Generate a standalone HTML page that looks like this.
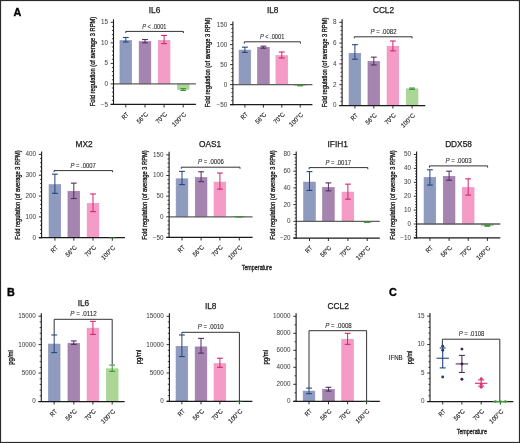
<!DOCTYPE html>
<html><head><meta charset="utf-8"><style>
html,body{margin:0;padding:0;background:#fff;}
body{width:520px;height:443px;overflow:hidden;}
svg{display:block;will-change:transform;filter:blur(0.3px);font-family:"Liberation Sans",sans-serif;}
</style></head><body>
<svg width="520" height="443" viewBox="0 0 520 443">
<rect x="0" y="0" width="520" height="443" fill="#fff"/>
<rect x="119.95" y="40.37" width="11.70" height="43.53" fill="#8f9abf" stroke="#8692ba" stroke-width="0.6"/>
<rect x="139.15" y="41.60" width="11.70" height="42.30" fill="#a584b0" stroke="#9b79a7" stroke-width="0.6"/>
<rect x="158.25" y="40.37" width="11.70" height="43.53" fill="#f59cc6" stroke="#ef90bf" stroke-width="0.6"/>
<rect x="177.35" y="83.90" width="11.70" height="5.54" fill="#acd696" stroke="#9fcf8a" stroke-width="0.6"/>
<line x1="113.50" y1="83.90" x2="195.90" y2="83.90" stroke="#5e5e5e" stroke-width="1.3"/>
<line x1="125.80" y1="37.49" x2="125.80" y2="42.01" stroke="#22467e" stroke-width="1.0"/>
<line x1="122.90" y1="37.49" x2="128.70" y2="37.49" stroke="#22467e" stroke-width="1.1"/>
<line x1="122.90" y1="42.01" x2="128.70" y2="42.01" stroke="#22467e" stroke-width="1.1"/>
<line x1="145.00" y1="39.55" x2="145.00" y2="42.83" stroke="#4f2f63" stroke-width="1.0"/>
<line x1="142.10" y1="39.55" x2="147.90" y2="39.55" stroke="#4f2f63" stroke-width="1.1"/>
<line x1="142.10" y1="42.83" x2="147.90" y2="42.83" stroke="#4f2f63" stroke-width="1.1"/>
<line x1="164.10" y1="35.44" x2="164.10" y2="43.65" stroke="#d4266c" stroke-width="1.0"/>
<line x1="161.20" y1="35.44" x2="167.00" y2="35.44" stroke="#d4266c" stroke-width="1.1"/>
<line x1="161.20" y1="43.65" x2="167.00" y2="43.65" stroke="#d4266c" stroke-width="1.1"/>
<line x1="183.20" y1="88.62" x2="183.20" y2="90.47" stroke="#379437" stroke-width="1.0"/>
<line x1="180.30" y1="88.62" x2="186.10" y2="88.62" stroke="#379437" stroke-width="1.1"/>
<line x1="180.30" y1="90.47" x2="186.10" y2="90.47" stroke="#379437" stroke-width="1.1"/>
<line x1="113.50" y1="19.30" x2="113.50" y2="105.03" stroke="#1a1a1a" stroke-width="1.1"/>
<line x1="110.70" y1="104.43" x2="195.90" y2="104.43" stroke="#1a1a1a" stroke-width="1.25"/>
<line x1="110.70" y1="22.30" x2="113.50" y2="22.30" stroke="#1a1a1a" stroke-width="0.9"/>
<text x="107.90" y="24.20" font-size="6.3" text-anchor="end" fill="#4a4a4a" stroke="#4a4a4a" stroke-width="0.05">15</text>
<line x1="110.70" y1="42.83" x2="113.50" y2="42.83" stroke="#1a1a1a" stroke-width="0.9"/>
<text x="107.90" y="44.73" font-size="6.3" text-anchor="end" fill="#4a4a4a" stroke="#4a4a4a" stroke-width="0.05">10</text>
<line x1="110.70" y1="63.37" x2="113.50" y2="63.37" stroke="#1a1a1a" stroke-width="0.9"/>
<text x="107.90" y="65.27" font-size="6.3" text-anchor="end" fill="#4a4a4a" stroke="#4a4a4a" stroke-width="0.05">5</text>
<line x1="110.70" y1="83.90" x2="113.50" y2="83.90" stroke="#1a1a1a" stroke-width="0.9"/>
<text x="107.90" y="85.80" font-size="6.3" text-anchor="end" fill="#4a4a4a" stroke="#4a4a4a" stroke-width="0.05">0</text>
<line x1="110.70" y1="104.43" x2="113.50" y2="104.43" stroke="#1a1a1a" stroke-width="0.9"/>
<text x="107.90" y="106.83" font-size="6.3" text-anchor="end" fill="#4a4a4a" stroke="#4a4a4a" stroke-width="0.05">−5</text>
<line x1="111.90" y1="100.33" x2="113.50" y2="100.33" stroke="#1a1a1a" stroke-width="0.8"/>
<line x1="111.90" y1="96.22" x2="113.50" y2="96.22" stroke="#1a1a1a" stroke-width="0.8"/>
<line x1="111.90" y1="92.11" x2="113.50" y2="92.11" stroke="#1a1a1a" stroke-width="0.8"/>
<line x1="111.90" y1="88.01" x2="113.50" y2="88.01" stroke="#1a1a1a" stroke-width="0.8"/>
<line x1="111.90" y1="79.79" x2="113.50" y2="79.79" stroke="#1a1a1a" stroke-width="0.8"/>
<line x1="111.90" y1="75.69" x2="113.50" y2="75.69" stroke="#1a1a1a" stroke-width="0.8"/>
<line x1="111.90" y1="71.58" x2="113.50" y2="71.58" stroke="#1a1a1a" stroke-width="0.8"/>
<line x1="111.90" y1="67.47" x2="113.50" y2="67.47" stroke="#1a1a1a" stroke-width="0.8"/>
<line x1="111.90" y1="59.26" x2="113.50" y2="59.26" stroke="#1a1a1a" stroke-width="0.8"/>
<line x1="111.90" y1="55.15" x2="113.50" y2="55.15" stroke="#1a1a1a" stroke-width="0.8"/>
<line x1="111.90" y1="51.05" x2="113.50" y2="51.05" stroke="#1a1a1a" stroke-width="0.8"/>
<line x1="111.90" y1="46.94" x2="113.50" y2="46.94" stroke="#1a1a1a" stroke-width="0.8"/>
<line x1="111.90" y1="38.73" x2="113.50" y2="38.73" stroke="#1a1a1a" stroke-width="0.8"/>
<line x1="111.90" y1="34.62" x2="113.50" y2="34.62" stroke="#1a1a1a" stroke-width="0.8"/>
<line x1="111.90" y1="30.51" x2="113.50" y2="30.51" stroke="#1a1a1a" stroke-width="0.8"/>
<line x1="111.90" y1="26.41" x2="113.50" y2="26.41" stroke="#1a1a1a" stroke-width="0.8"/>
<line x1="125.80" y1="104.43" x2="125.80" y2="107.43" stroke="#1a1a1a" stroke-width="0.9"/>
<line x1="145.00" y1="104.43" x2="145.00" y2="107.43" stroke="#1a1a1a" stroke-width="0.9"/>
<line x1="164.10" y1="104.43" x2="164.10" y2="107.43" stroke="#1a1a1a" stroke-width="0.9"/>
<line x1="183.20" y1="104.43" x2="183.20" y2="107.43" stroke="#1a1a1a" stroke-width="0.9"/>
<text x="129.20" y="114.83" font-size="6.3" text-anchor="end" fill="#222" stroke="#222" stroke-width="0.15" textLength="7.14" lengthAdjust="spacingAndGlyphs" transform="rotate(-45 129.20 114.83)">RT</text>
<text x="148.40" y="114.83" font-size="6.3" text-anchor="end" fill="#222" stroke="#222" stroke-width="0.15" textLength="12.95" lengthAdjust="spacingAndGlyphs" transform="rotate(-45 148.40 114.83)">56°C</text>
<text x="167.50" y="114.83" font-size="6.3" text-anchor="end" fill="#222" stroke="#222" stroke-width="0.15" textLength="12.95" lengthAdjust="spacingAndGlyphs" transform="rotate(-45 167.50 114.83)">70°C</text>
<text x="186.60" y="114.83" font-size="6.3" text-anchor="end" fill="#222" stroke="#222" stroke-width="0.15" textLength="17.05" lengthAdjust="spacingAndGlyphs" transform="rotate(-45 186.60 114.83)">100°C</text>
<text x="154.50" y="13.20" font-size="8.3" text-anchor="middle" fill="#1a1a1a" stroke="#1a1a1a" stroke-width="0.25">IL6</text>
<text x="95.10" y="61.50" font-size="7.2" text-anchor="middle" fill="#111" stroke="#111" stroke-width="0.3" textLength="89.5" lengthAdjust="spacingAndGlyphs" transform="rotate(-90 95.10 61.50)">Fold regulation (of average 3 RPM)</text>
<path d="M125.80 33.00 L125.80 31.40 L183.40 31.40 L183.40 33.00" fill="none" stroke="#333" stroke-width="1"/>
<text x="154.30" y="28.50" font-size="6.6" text-anchor="middle" fill="#2a2a2a" stroke="#2a2a2a" stroke-width="0.1" textLength="24.2" lengthAdjust="spacingAndGlyphs"><tspan font-style="italic">P</tspan> < .0001</text>
<rect x="239.05" y="50.08" width="11.70" height="34.52" fill="#8f9abf" stroke="#8692ba" stroke-width="0.6"/>
<rect x="257.55" y="47.28" width="11.70" height="37.32" fill="#a584b0" stroke="#9b79a7" stroke-width="0.6"/>
<rect x="275.95" y="55.60" width="11.70" height="29.00" fill="#f59cc6" stroke="#ef90bf" stroke-width="0.6"/>
<rect x="294.35" y="84.60" width="11.70" height="0.80" fill="#acd696" stroke="#9fcf8a" stroke-width="0.6"/>
<line x1="232.90" y1="84.60" x2="312.40" y2="84.60" stroke="#5e5e5e" stroke-width="1.3"/>
<line x1="244.90" y1="47.20" x2="244.90" y2="52.40" stroke="#22467e" stroke-width="1.0"/>
<line x1="242.00" y1="47.20" x2="247.80" y2="47.20" stroke="#22467e" stroke-width="1.1"/>
<line x1="242.00" y1="52.40" x2="247.80" y2="52.40" stroke="#22467e" stroke-width="1.1"/>
<line x1="263.40" y1="46.20" x2="263.40" y2="48.20" stroke="#4f2f63" stroke-width="1.0"/>
<line x1="260.50" y1="46.20" x2="266.30" y2="46.20" stroke="#4f2f63" stroke-width="1.1"/>
<line x1="260.50" y1="48.20" x2="266.30" y2="48.20" stroke="#4f2f63" stroke-width="1.1"/>
<line x1="281.80" y1="52.00" x2="281.80" y2="58.00" stroke="#d4266c" stroke-width="1.0"/>
<line x1="278.90" y1="52.00" x2="284.70" y2="52.00" stroke="#d4266c" stroke-width="1.1"/>
<line x1="278.90" y1="58.00" x2="284.70" y2="58.00" stroke="#d4266c" stroke-width="1.1"/>
<line x1="300.20" y1="85.00" x2="300.20" y2="85.80" stroke="#379437" stroke-width="1.0"/>
<line x1="297.30" y1="85.00" x2="303.10" y2="85.00" stroke="#379437" stroke-width="1.1"/>
<line x1="297.30" y1="85.80" x2="303.10" y2="85.80" stroke="#379437" stroke-width="1.1"/>
<line x1="232.90" y1="21.60" x2="232.90" y2="105.20" stroke="#1a1a1a" stroke-width="1.1"/>
<line x1="230.10" y1="104.60" x2="312.40" y2="104.60" stroke="#1a1a1a" stroke-width="1.25"/>
<line x1="230.10" y1="24.60" x2="232.90" y2="24.60" stroke="#1a1a1a" stroke-width="0.9"/>
<text x="227.30" y="26.50" font-size="6.3" text-anchor="end" fill="#4a4a4a" stroke="#4a4a4a" stroke-width="0.05">150</text>
<line x1="230.10" y1="44.60" x2="232.90" y2="44.60" stroke="#1a1a1a" stroke-width="0.9"/>
<text x="227.30" y="46.50" font-size="6.3" text-anchor="end" fill="#4a4a4a" stroke="#4a4a4a" stroke-width="0.05">100</text>
<line x1="230.10" y1="64.60" x2="232.90" y2="64.60" stroke="#1a1a1a" stroke-width="0.9"/>
<text x="227.30" y="66.50" font-size="6.3" text-anchor="end" fill="#4a4a4a" stroke="#4a4a4a" stroke-width="0.05">50</text>
<line x1="230.10" y1="84.60" x2="232.90" y2="84.60" stroke="#1a1a1a" stroke-width="0.9"/>
<text x="227.30" y="86.50" font-size="6.3" text-anchor="end" fill="#4a4a4a" stroke="#4a4a4a" stroke-width="0.05">0</text>
<line x1="230.10" y1="104.60" x2="232.90" y2="104.60" stroke="#1a1a1a" stroke-width="0.9"/>
<text x="227.30" y="107.00" font-size="6.3" text-anchor="end" fill="#4a4a4a" stroke="#4a4a4a" stroke-width="0.05">−50</text>
<line x1="231.30" y1="100.60" x2="232.90" y2="100.60" stroke="#1a1a1a" stroke-width="0.8"/>
<line x1="231.30" y1="96.60" x2="232.90" y2="96.60" stroke="#1a1a1a" stroke-width="0.8"/>
<line x1="231.30" y1="92.60" x2="232.90" y2="92.60" stroke="#1a1a1a" stroke-width="0.8"/>
<line x1="231.30" y1="88.60" x2="232.90" y2="88.60" stroke="#1a1a1a" stroke-width="0.8"/>
<line x1="231.30" y1="80.60" x2="232.90" y2="80.60" stroke="#1a1a1a" stroke-width="0.8"/>
<line x1="231.30" y1="76.60" x2="232.90" y2="76.60" stroke="#1a1a1a" stroke-width="0.8"/>
<line x1="231.30" y1="72.60" x2="232.90" y2="72.60" stroke="#1a1a1a" stroke-width="0.8"/>
<line x1="231.30" y1="68.60" x2="232.90" y2="68.60" stroke="#1a1a1a" stroke-width="0.8"/>
<line x1="231.30" y1="60.60" x2="232.90" y2="60.60" stroke="#1a1a1a" stroke-width="0.8"/>
<line x1="231.30" y1="56.60" x2="232.90" y2="56.60" stroke="#1a1a1a" stroke-width="0.8"/>
<line x1="231.30" y1="52.60" x2="232.90" y2="52.60" stroke="#1a1a1a" stroke-width="0.8"/>
<line x1="231.30" y1="48.60" x2="232.90" y2="48.60" stroke="#1a1a1a" stroke-width="0.8"/>
<line x1="231.30" y1="40.60" x2="232.90" y2="40.60" stroke="#1a1a1a" stroke-width="0.8"/>
<line x1="231.30" y1="36.60" x2="232.90" y2="36.60" stroke="#1a1a1a" stroke-width="0.8"/>
<line x1="231.30" y1="32.60" x2="232.90" y2="32.60" stroke="#1a1a1a" stroke-width="0.8"/>
<line x1="231.30" y1="28.60" x2="232.90" y2="28.60" stroke="#1a1a1a" stroke-width="0.8"/>
<line x1="244.90" y1="104.60" x2="244.90" y2="107.60" stroke="#1a1a1a" stroke-width="0.9"/>
<line x1="263.40" y1="104.60" x2="263.40" y2="107.60" stroke="#1a1a1a" stroke-width="0.9"/>
<line x1="281.80" y1="104.60" x2="281.80" y2="107.60" stroke="#1a1a1a" stroke-width="0.9"/>
<line x1="300.20" y1="104.60" x2="300.20" y2="107.60" stroke="#1a1a1a" stroke-width="0.9"/>
<text x="248.30" y="115.00" font-size="6.3" text-anchor="end" fill="#222" stroke="#222" stroke-width="0.15" textLength="7.14" lengthAdjust="spacingAndGlyphs" transform="rotate(-45 248.30 115.00)">RT</text>
<text x="266.80" y="115.00" font-size="6.3" text-anchor="end" fill="#222" stroke="#222" stroke-width="0.15" textLength="12.95" lengthAdjust="spacingAndGlyphs" transform="rotate(-45 266.80 115.00)">56°C</text>
<text x="285.20" y="115.00" font-size="6.3" text-anchor="end" fill="#222" stroke="#222" stroke-width="0.15" textLength="12.95" lengthAdjust="spacingAndGlyphs" transform="rotate(-45 285.20 115.00)">70°C</text>
<text x="303.60" y="115.00" font-size="6.3" text-anchor="end" fill="#222" stroke="#222" stroke-width="0.15" textLength="17.05" lengthAdjust="spacingAndGlyphs" transform="rotate(-45 303.60 115.00)">100°C</text>
<text x="272.70" y="13.40" font-size="8.3" text-anchor="middle" fill="#1a1a1a" stroke="#1a1a1a" stroke-width="0.25">IL8</text>
<text x="210.50" y="62.40" font-size="7.2" text-anchor="middle" fill="#111" stroke="#111" stroke-width="0.3" textLength="89.5" lengthAdjust="spacingAndGlyphs" transform="rotate(-90 210.50 62.40)">Fold regulation (of average 3 RPM)</text>
<path d="M244.30 43.60 L244.30 41.80 L300.40 41.80 L300.40 43.60" fill="none" stroke="#333" stroke-width="1"/>
<text x="272.10" y="38.90" font-size="6.6" text-anchor="middle" fill="#2a2a2a" stroke="#2a2a2a" stroke-width="0.1" textLength="24.4" lengthAdjust="spacingAndGlyphs"><tspan font-style="italic">P</tspan> < .0001</text>
<rect x="349.05" y="53.29" width="11.70" height="52.21" fill="#8f9abf" stroke="#8692ba" stroke-width="0.6"/>
<rect x="367.95" y="61.40" width="11.70" height="44.10" fill="#a584b0" stroke="#9b79a7" stroke-width="0.6"/>
<rect x="387.05" y="46.22" width="11.70" height="59.28" fill="#f59cc6" stroke="#ef90bf" stroke-width="0.6"/>
<rect x="406.25" y="88.86" width="11.70" height="16.64" fill="#acd696" stroke="#9fcf8a" stroke-width="0.6"/>
<line x1="354.90" y1="44.66" x2="354.90" y2="59.22" stroke="#22467e" stroke-width="1.0"/>
<line x1="352.00" y1="44.66" x2="357.80" y2="44.66" stroke="#22467e" stroke-width="1.1"/>
<line x1="352.00" y1="59.22" x2="357.80" y2="59.22" stroke="#22467e" stroke-width="1.1"/>
<line x1="373.80" y1="57.14" x2="373.80" y2="64.94" stroke="#4f2f63" stroke-width="1.0"/>
<line x1="370.90" y1="57.14" x2="376.70" y2="57.14" stroke="#4f2f63" stroke-width="1.1"/>
<line x1="370.90" y1="64.94" x2="376.70" y2="64.94" stroke="#4f2f63" stroke-width="1.1"/>
<line x1="392.90" y1="41.02" x2="392.90" y2="50.90" stroke="#d4266c" stroke-width="1.0"/>
<line x1="390.00" y1="41.02" x2="395.80" y2="41.02" stroke="#d4266c" stroke-width="1.1"/>
<line x1="390.00" y1="50.90" x2="395.80" y2="50.90" stroke="#d4266c" stroke-width="1.1"/>
<line x1="412.10" y1="88.03" x2="412.10" y2="89.38" stroke="#379437" stroke-width="1.0"/>
<line x1="409.20" y1="88.03" x2="415.00" y2="88.03" stroke="#379437" stroke-width="1.1"/>
<line x1="409.20" y1="89.38" x2="415.00" y2="89.38" stroke="#379437" stroke-width="1.1"/>
<line x1="342.10" y1="19.30" x2="342.10" y2="106.10" stroke="#1a1a1a" stroke-width="1.1"/>
<line x1="339.30" y1="105.50" x2="425.30" y2="105.50" stroke="#1a1a1a" stroke-width="1.25"/>
<line x1="339.30" y1="22.30" x2="342.10" y2="22.30" stroke="#1a1a1a" stroke-width="0.9"/>
<text x="336.50" y="24.20" font-size="6.3" text-anchor="end" fill="#4a4a4a" stroke="#4a4a4a" stroke-width="0.05">8</text>
<line x1="339.30" y1="43.10" x2="342.10" y2="43.10" stroke="#1a1a1a" stroke-width="0.9"/>
<text x="336.50" y="45.00" font-size="6.3" text-anchor="end" fill="#4a4a4a" stroke="#4a4a4a" stroke-width="0.05">6</text>
<line x1="339.30" y1="63.90" x2="342.10" y2="63.90" stroke="#1a1a1a" stroke-width="0.9"/>
<text x="336.50" y="65.80" font-size="6.3" text-anchor="end" fill="#4a4a4a" stroke="#4a4a4a" stroke-width="0.05">4</text>
<line x1="339.30" y1="84.70" x2="342.10" y2="84.70" stroke="#1a1a1a" stroke-width="0.9"/>
<text x="336.50" y="86.60" font-size="6.3" text-anchor="end" fill="#4a4a4a" stroke="#4a4a4a" stroke-width="0.05">2</text>
<line x1="339.30" y1="105.50" x2="342.10" y2="105.50" stroke="#1a1a1a" stroke-width="0.9"/>
<text x="336.50" y="107.40" font-size="6.3" text-anchor="end" fill="#4a4a4a" stroke="#4a4a4a" stroke-width="0.05">0</text>
<line x1="340.50" y1="101.34" x2="342.10" y2="101.34" stroke="#1a1a1a" stroke-width="0.8"/>
<line x1="340.50" y1="97.18" x2="342.10" y2="97.18" stroke="#1a1a1a" stroke-width="0.8"/>
<line x1="340.50" y1="93.02" x2="342.10" y2="93.02" stroke="#1a1a1a" stroke-width="0.8"/>
<line x1="340.50" y1="88.86" x2="342.10" y2="88.86" stroke="#1a1a1a" stroke-width="0.8"/>
<line x1="340.50" y1="80.54" x2="342.10" y2="80.54" stroke="#1a1a1a" stroke-width="0.8"/>
<line x1="340.50" y1="76.38" x2="342.10" y2="76.38" stroke="#1a1a1a" stroke-width="0.8"/>
<line x1="340.50" y1="72.22" x2="342.10" y2="72.22" stroke="#1a1a1a" stroke-width="0.8"/>
<line x1="340.50" y1="68.06" x2="342.10" y2="68.06" stroke="#1a1a1a" stroke-width="0.8"/>
<line x1="340.50" y1="59.74" x2="342.10" y2="59.74" stroke="#1a1a1a" stroke-width="0.8"/>
<line x1="340.50" y1="55.58" x2="342.10" y2="55.58" stroke="#1a1a1a" stroke-width="0.8"/>
<line x1="340.50" y1="51.42" x2="342.10" y2="51.42" stroke="#1a1a1a" stroke-width="0.8"/>
<line x1="340.50" y1="47.26" x2="342.10" y2="47.26" stroke="#1a1a1a" stroke-width="0.8"/>
<line x1="340.50" y1="38.94" x2="342.10" y2="38.94" stroke="#1a1a1a" stroke-width="0.8"/>
<line x1="340.50" y1="34.78" x2="342.10" y2="34.78" stroke="#1a1a1a" stroke-width="0.8"/>
<line x1="340.50" y1="30.62" x2="342.10" y2="30.62" stroke="#1a1a1a" stroke-width="0.8"/>
<line x1="340.50" y1="26.46" x2="342.10" y2="26.46" stroke="#1a1a1a" stroke-width="0.8"/>
<line x1="354.90" y1="105.50" x2="354.90" y2="108.50" stroke="#1a1a1a" stroke-width="0.9"/>
<line x1="373.80" y1="105.50" x2="373.80" y2="108.50" stroke="#1a1a1a" stroke-width="0.9"/>
<line x1="392.90" y1="105.50" x2="392.90" y2="108.50" stroke="#1a1a1a" stroke-width="0.9"/>
<line x1="412.10" y1="105.50" x2="412.10" y2="108.50" stroke="#1a1a1a" stroke-width="0.9"/>
<text x="358.30" y="115.90" font-size="6.3" text-anchor="end" fill="#222" stroke="#222" stroke-width="0.15" textLength="7.14" lengthAdjust="spacingAndGlyphs" transform="rotate(-45 358.30 115.90)">RT</text>
<text x="377.20" y="115.90" font-size="6.3" text-anchor="end" fill="#222" stroke="#222" stroke-width="0.15" textLength="12.95" lengthAdjust="spacingAndGlyphs" transform="rotate(-45 377.20 115.90)">56°C</text>
<text x="396.30" y="115.90" font-size="6.3" text-anchor="end" fill="#222" stroke="#222" stroke-width="0.15" textLength="12.95" lengthAdjust="spacingAndGlyphs" transform="rotate(-45 396.30 115.90)">70°C</text>
<text x="415.50" y="115.90" font-size="6.3" text-anchor="end" fill="#222" stroke="#222" stroke-width="0.15" textLength="17.05" lengthAdjust="spacingAndGlyphs" transform="rotate(-45 415.50 115.90)">100°C</text>
<text x="383.50" y="13.20" font-size="8.3" text-anchor="middle" fill="#1a1a1a" stroke="#1a1a1a" stroke-width="0.25">CCL2</text>
<text x="327.10" y="62.40" font-size="7.2" text-anchor="middle" fill="#111" stroke="#111" stroke-width="0.3" textLength="89.5" lengthAdjust="spacingAndGlyphs" transform="rotate(-90 327.10 62.40)">Fold regulation (of average 3 RPM)</text>
<path d="M354.30 38.30 L354.30 36.80 L412.10 36.80 L412.10 38.30" fill="none" stroke="#333" stroke-width="1"/>
<text x="383.50" y="33.90" font-size="6.6" text-anchor="middle" fill="#2a2a2a" stroke="#2a2a2a" stroke-width="0.1" textLength="26.2" lengthAdjust="spacingAndGlyphs"><tspan font-style="italic">P</tspan> = .0082</text>
<rect x="49.05" y="184.60" width="11.70" height="53.10" fill="#8f9abf" stroke="#8692ba" stroke-width="0.6"/>
<rect x="67.95" y="191.26" width="11.70" height="46.44" fill="#a584b0" stroke="#9b79a7" stroke-width="0.6"/>
<rect x="87.15" y="203.34" width="11.70" height="34.36" fill="#f59cc6" stroke="#ef90bf" stroke-width="0.6"/>
<rect x="106.45" y="237.70" width="11.70" height="0.00" fill="#acd696" stroke="#9fcf8a" stroke-width="0.6"/>
<line x1="54.90" y1="174.18" x2="54.90" y2="193.34" stroke="#22467e" stroke-width="1.0"/>
<line x1="52.00" y1="174.18" x2="57.80" y2="174.18" stroke="#22467e" stroke-width="1.1"/>
<line x1="52.00" y1="193.34" x2="57.80" y2="193.34" stroke="#22467e" stroke-width="1.1"/>
<line x1="73.80" y1="183.14" x2="73.80" y2="198.55" stroke="#4f2f63" stroke-width="1.0"/>
<line x1="70.90" y1="183.14" x2="76.70" y2="183.14" stroke="#4f2f63" stroke-width="1.1"/>
<line x1="70.90" y1="198.55" x2="76.70" y2="198.55" stroke="#4f2f63" stroke-width="1.1"/>
<line x1="93.00" y1="193.97" x2="93.00" y2="211.67" stroke="#d4266c" stroke-width="1.0"/>
<line x1="90.10" y1="193.97" x2="95.90" y2="193.97" stroke="#d4266c" stroke-width="1.1"/>
<line x1="90.10" y1="211.67" x2="95.90" y2="211.67" stroke="#d4266c" stroke-width="1.1"/>
<line x1="41.60" y1="151.40" x2="41.60" y2="238.30" stroke="#1a1a1a" stroke-width="1.1"/>
<line x1="38.80" y1="237.70" x2="124.90" y2="237.70" stroke="#1a1a1a" stroke-width="1.25"/>
<line x1="38.80" y1="154.40" x2="41.60" y2="154.40" stroke="#1a1a1a" stroke-width="0.9"/>
<text x="36.00" y="156.30" font-size="6.3" text-anchor="end" fill="#4a4a4a" stroke="#4a4a4a" stroke-width="0.05">400</text>
<line x1="38.80" y1="175.22" x2="41.60" y2="175.22" stroke="#1a1a1a" stroke-width="0.9"/>
<text x="36.00" y="177.12" font-size="6.3" text-anchor="end" fill="#4a4a4a" stroke="#4a4a4a" stroke-width="0.05">300</text>
<line x1="38.80" y1="196.05" x2="41.60" y2="196.05" stroke="#1a1a1a" stroke-width="0.9"/>
<text x="36.00" y="197.95" font-size="6.3" text-anchor="end" fill="#4a4a4a" stroke="#4a4a4a" stroke-width="0.05">200</text>
<line x1="38.80" y1="216.88" x2="41.60" y2="216.88" stroke="#1a1a1a" stroke-width="0.9"/>
<text x="36.00" y="218.78" font-size="6.3" text-anchor="end" fill="#4a4a4a" stroke="#4a4a4a" stroke-width="0.05">100</text>
<line x1="38.80" y1="237.70" x2="41.60" y2="237.70" stroke="#1a1a1a" stroke-width="0.9"/>
<text x="36.00" y="239.60" font-size="6.3" text-anchor="end" fill="#4a4a4a" stroke="#4a4a4a" stroke-width="0.05">0</text>
<line x1="40.00" y1="233.53" x2="41.60" y2="233.53" stroke="#1a1a1a" stroke-width="0.8"/>
<line x1="40.00" y1="229.37" x2="41.60" y2="229.37" stroke="#1a1a1a" stroke-width="0.8"/>
<line x1="40.00" y1="225.20" x2="41.60" y2="225.20" stroke="#1a1a1a" stroke-width="0.8"/>
<line x1="40.00" y1="221.04" x2="41.60" y2="221.04" stroke="#1a1a1a" stroke-width="0.8"/>
<line x1="40.00" y1="212.71" x2="41.60" y2="212.71" stroke="#1a1a1a" stroke-width="0.8"/>
<line x1="40.00" y1="208.54" x2="41.60" y2="208.54" stroke="#1a1a1a" stroke-width="0.8"/>
<line x1="40.00" y1="204.38" x2="41.60" y2="204.38" stroke="#1a1a1a" stroke-width="0.8"/>
<line x1="40.00" y1="200.22" x2="41.60" y2="200.22" stroke="#1a1a1a" stroke-width="0.8"/>
<line x1="40.00" y1="191.88" x2="41.60" y2="191.88" stroke="#1a1a1a" stroke-width="0.8"/>
<line x1="40.00" y1="187.72" x2="41.60" y2="187.72" stroke="#1a1a1a" stroke-width="0.8"/>
<line x1="40.00" y1="183.56" x2="41.60" y2="183.56" stroke="#1a1a1a" stroke-width="0.8"/>
<line x1="40.00" y1="179.39" x2="41.60" y2="179.39" stroke="#1a1a1a" stroke-width="0.8"/>
<line x1="40.00" y1="171.06" x2="41.60" y2="171.06" stroke="#1a1a1a" stroke-width="0.8"/>
<line x1="40.00" y1="166.90" x2="41.60" y2="166.90" stroke="#1a1a1a" stroke-width="0.8"/>
<line x1="40.00" y1="162.73" x2="41.60" y2="162.73" stroke="#1a1a1a" stroke-width="0.8"/>
<line x1="40.00" y1="158.56" x2="41.60" y2="158.56" stroke="#1a1a1a" stroke-width="0.8"/>
<line x1="54.90" y1="237.70" x2="54.90" y2="240.70" stroke="#1a1a1a" stroke-width="0.9"/>
<line x1="73.80" y1="237.70" x2="73.80" y2="240.70" stroke="#1a1a1a" stroke-width="0.9"/>
<line x1="93.00" y1="237.70" x2="93.00" y2="240.70" stroke="#1a1a1a" stroke-width="0.9"/>
<line x1="112.30" y1="237.70" x2="112.30" y2="240.70" stroke="#1a1a1a" stroke-width="0.9"/>
<line x1="109.30" y1="237.70" x2="115.30" y2="237.70" stroke="#379437" stroke-width="1.2" opacity="0.55"/>
<text x="58.30" y="248.10" font-size="6.3" text-anchor="end" fill="#222" stroke="#222" stroke-width="0.15" textLength="7.14" lengthAdjust="spacingAndGlyphs" transform="rotate(-45 58.30 248.10)">RT</text>
<text x="77.20" y="248.10" font-size="6.3" text-anchor="end" fill="#222" stroke="#222" stroke-width="0.15" textLength="12.95" lengthAdjust="spacingAndGlyphs" transform="rotate(-45 77.20 248.10)">56°C</text>
<text x="96.40" y="248.10" font-size="6.3" text-anchor="end" fill="#222" stroke="#222" stroke-width="0.15" textLength="12.95" lengthAdjust="spacingAndGlyphs" transform="rotate(-45 96.40 248.10)">70°C</text>
<text x="115.70" y="248.10" font-size="6.3" text-anchor="end" fill="#222" stroke="#222" stroke-width="0.15" textLength="17.05" lengthAdjust="spacingAndGlyphs" transform="rotate(-45 115.70 248.10)">100°C</text>
<text x="84.00" y="146.70" font-size="8.3" text-anchor="middle" fill="#1a1a1a" stroke="#1a1a1a" stroke-width="0.25">MX2</text>
<text x="19.90" y="195.00" font-size="7.2" text-anchor="middle" fill="#111" stroke="#111" stroke-width="0.3" textLength="89.5" lengthAdjust="spacingAndGlyphs" transform="rotate(-90 19.90 195.00)">Fold regulation (of average 3 RPM)</text>
<path d="M54.10 172.20 L54.10 170.60 L112.60 170.60 L112.60 172.20" fill="none" stroke="#333" stroke-width="1"/>
<text x="83.10" y="167.70" font-size="6.6" text-anchor="middle" fill="#2a2a2a" stroke="#2a2a2a" stroke-width="0.1" textLength="25.4" lengthAdjust="spacingAndGlyphs"><tspan font-style="italic">P</tspan> = .0007</text>
<rect x="176.15" y="178.80" width="11.70" height="38.00" fill="#8f9abf" stroke="#8692ba" stroke-width="0.6"/>
<rect x="195.25" y="177.56" width="11.70" height="39.24" fill="#a584b0" stroke="#9b79a7" stroke-width="0.6"/>
<rect x="214.05" y="182.11" width="11.70" height="34.69" fill="#f59cc6" stroke="#ef90bf" stroke-width="0.6"/>
<rect x="233.45" y="216.63" width="11.70" height="0.17" fill="#acd696" stroke="#9fcf8a" stroke-width="0.6"/>
<line x1="169.10" y1="216.80" x2="252.60" y2="216.80" stroke="#5e5e5e" stroke-width="1.3"/>
<line x1="182.00" y1="171.37" x2="182.00" y2="184.59" stroke="#22467e" stroke-width="1.0"/>
<line x1="179.10" y1="171.37" x2="184.90" y2="171.37" stroke="#22467e" stroke-width="1.1"/>
<line x1="179.10" y1="184.59" x2="184.90" y2="184.59" stroke="#22467e" stroke-width="1.1"/>
<line x1="201.10" y1="171.78" x2="201.10" y2="181.69" stroke="#4f2f63" stroke-width="1.0"/>
<line x1="198.20" y1="171.78" x2="204.00" y2="171.78" stroke="#4f2f63" stroke-width="1.1"/>
<line x1="198.20" y1="181.69" x2="204.00" y2="181.69" stroke="#4f2f63" stroke-width="1.1"/>
<line x1="219.90" y1="173.02" x2="219.90" y2="189.13" stroke="#d4266c" stroke-width="1.0"/>
<line x1="217.00" y1="173.02" x2="222.80" y2="173.02" stroke="#d4266c" stroke-width="1.1"/>
<line x1="217.00" y1="189.13" x2="222.80" y2="189.13" stroke="#d4266c" stroke-width="1.1"/>
<line x1="236.10" y1="216.93" x2="242.50" y2="216.93" stroke="#379437" stroke-width="1.3"/>
<line x1="169.10" y1="151.85" x2="169.10" y2="238.05" stroke="#1a1a1a" stroke-width="1.1"/>
<line x1="166.30" y1="237.45" x2="252.60" y2="237.45" stroke="#1a1a1a" stroke-width="1.25"/>
<line x1="166.30" y1="154.85" x2="169.10" y2="154.85" stroke="#1a1a1a" stroke-width="0.9"/>
<text x="163.50" y="156.75" font-size="6.3" text-anchor="end" fill="#4a4a4a" stroke="#4a4a4a" stroke-width="0.05">150</text>
<line x1="166.30" y1="175.50" x2="169.10" y2="175.50" stroke="#1a1a1a" stroke-width="0.9"/>
<text x="163.50" y="177.40" font-size="6.3" text-anchor="end" fill="#4a4a4a" stroke="#4a4a4a" stroke-width="0.05">100</text>
<line x1="166.30" y1="196.15" x2="169.10" y2="196.15" stroke="#1a1a1a" stroke-width="0.9"/>
<text x="163.50" y="198.05" font-size="6.3" text-anchor="end" fill="#4a4a4a" stroke="#4a4a4a" stroke-width="0.05">50</text>
<line x1="166.30" y1="216.80" x2="169.10" y2="216.80" stroke="#1a1a1a" stroke-width="0.9"/>
<text x="163.50" y="218.70" font-size="6.3" text-anchor="end" fill="#4a4a4a" stroke="#4a4a4a" stroke-width="0.05">0</text>
<line x1="166.30" y1="237.45" x2="169.10" y2="237.45" stroke="#1a1a1a" stroke-width="0.9"/>
<text x="163.50" y="239.85" font-size="6.3" text-anchor="end" fill="#4a4a4a" stroke="#4a4a4a" stroke-width="0.05">−50</text>
<line x1="167.50" y1="233.32" x2="169.10" y2="233.32" stroke="#1a1a1a" stroke-width="0.8"/>
<line x1="167.50" y1="229.19" x2="169.10" y2="229.19" stroke="#1a1a1a" stroke-width="0.8"/>
<line x1="167.50" y1="225.06" x2="169.10" y2="225.06" stroke="#1a1a1a" stroke-width="0.8"/>
<line x1="167.50" y1="220.93" x2="169.10" y2="220.93" stroke="#1a1a1a" stroke-width="0.8"/>
<line x1="167.50" y1="212.67" x2="169.10" y2="212.67" stroke="#1a1a1a" stroke-width="0.8"/>
<line x1="167.50" y1="208.54" x2="169.10" y2="208.54" stroke="#1a1a1a" stroke-width="0.8"/>
<line x1="167.50" y1="204.41" x2="169.10" y2="204.41" stroke="#1a1a1a" stroke-width="0.8"/>
<line x1="167.50" y1="200.28" x2="169.10" y2="200.28" stroke="#1a1a1a" stroke-width="0.8"/>
<line x1="167.50" y1="192.02" x2="169.10" y2="192.02" stroke="#1a1a1a" stroke-width="0.8"/>
<line x1="167.50" y1="187.89" x2="169.10" y2="187.89" stroke="#1a1a1a" stroke-width="0.8"/>
<line x1="167.50" y1="183.76" x2="169.10" y2="183.76" stroke="#1a1a1a" stroke-width="0.8"/>
<line x1="167.50" y1="179.63" x2="169.10" y2="179.63" stroke="#1a1a1a" stroke-width="0.8"/>
<line x1="167.50" y1="171.37" x2="169.10" y2="171.37" stroke="#1a1a1a" stroke-width="0.8"/>
<line x1="167.50" y1="167.24" x2="169.10" y2="167.24" stroke="#1a1a1a" stroke-width="0.8"/>
<line x1="167.50" y1="163.11" x2="169.10" y2="163.11" stroke="#1a1a1a" stroke-width="0.8"/>
<line x1="167.50" y1="158.98" x2="169.10" y2="158.98" stroke="#1a1a1a" stroke-width="0.8"/>
<line x1="182.00" y1="237.45" x2="182.00" y2="240.45" stroke="#1a1a1a" stroke-width="0.9"/>
<line x1="201.10" y1="237.45" x2="201.10" y2="240.45" stroke="#1a1a1a" stroke-width="0.9"/>
<line x1="219.90" y1="237.45" x2="219.90" y2="240.45" stroke="#1a1a1a" stroke-width="0.9"/>
<line x1="239.30" y1="237.45" x2="239.30" y2="240.45" stroke="#1a1a1a" stroke-width="0.9"/>
<text x="185.40" y="247.85" font-size="6.3" text-anchor="end" fill="#222" stroke="#222" stroke-width="0.15" textLength="7.14" lengthAdjust="spacingAndGlyphs" transform="rotate(-45 185.40 247.85)">RT</text>
<text x="204.50" y="247.85" font-size="6.3" text-anchor="end" fill="#222" stroke="#222" stroke-width="0.15" textLength="12.95" lengthAdjust="spacingAndGlyphs" transform="rotate(-45 204.50 247.85)">56°C</text>
<text x="223.30" y="247.85" font-size="6.3" text-anchor="end" fill="#222" stroke="#222" stroke-width="0.15" textLength="12.95" lengthAdjust="spacingAndGlyphs" transform="rotate(-45 223.30 247.85)">70°C</text>
<text x="242.70" y="247.85" font-size="6.3" text-anchor="end" fill="#222" stroke="#222" stroke-width="0.15" textLength="17.05" lengthAdjust="spacingAndGlyphs" transform="rotate(-45 242.70 247.85)">100°C</text>
<text x="210.10" y="146.70" font-size="8.3" text-anchor="middle" fill="#1a1a1a" stroke="#1a1a1a" stroke-width="0.25">OAS1</text>
<text x="147.00" y="195.00" font-size="7.2" text-anchor="middle" fill="#111" stroke="#111" stroke-width="0.3" textLength="89.5" lengthAdjust="spacingAndGlyphs" transform="rotate(-90 147.00 195.00)">Fold regulation (of average 3 RPM)</text>
<path d="M181.30 168.80 L181.30 167.20 L240.00 167.20 L240.00 168.80" fill="none" stroke="#333" stroke-width="1"/>
<text x="210.90" y="164.30" font-size="6.6" text-anchor="middle" fill="#2a2a2a" stroke="#2a2a2a" stroke-width="0.1" textLength="25.8" lengthAdjust="spacingAndGlyphs"><tspan font-style="italic">P</tspan> = .0006</text>
<rect x="303.65" y="182.06" width="11.70" height="39.25" fill="#8f9abf" stroke="#8692ba" stroke-width="0.6"/>
<rect x="322.55" y="187.48" width="11.70" height="33.82" fill="#a584b0" stroke="#9b79a7" stroke-width="0.6"/>
<rect x="342.05" y="192.08" width="11.70" height="29.22" fill="#f59cc6" stroke="#ef90bf" stroke-width="0.6"/>
<rect x="361.35" y="221.30" width="11.70" height="0.67" fill="#acd696" stroke="#9fcf8a" stroke-width="0.6"/>
<line x1="296.20" y1="221.30" x2="379.80" y2="221.30" stroke="#5e5e5e" stroke-width="1.3"/>
<line x1="309.50" y1="171.62" x2="309.50" y2="190.41" stroke="#22467e" stroke-width="1.0"/>
<line x1="306.60" y1="171.62" x2="312.40" y2="171.62" stroke="#22467e" stroke-width="1.1"/>
<line x1="306.60" y1="190.41" x2="312.40" y2="190.41" stroke="#22467e" stroke-width="1.1"/>
<line x1="328.40" y1="182.89" x2="328.40" y2="190.82" stroke="#4f2f63" stroke-width="1.0"/>
<line x1="325.50" y1="182.89" x2="331.30" y2="182.89" stroke="#4f2f63" stroke-width="1.1"/>
<line x1="325.50" y1="190.82" x2="331.30" y2="190.82" stroke="#4f2f63" stroke-width="1.1"/>
<line x1="347.90" y1="184.14" x2="347.90" y2="199.17" stroke="#d4266c" stroke-width="1.0"/>
<line x1="345.00" y1="184.14" x2="350.80" y2="184.14" stroke="#d4266c" stroke-width="1.1"/>
<line x1="345.00" y1="199.17" x2="350.80" y2="199.17" stroke="#d4266c" stroke-width="1.1"/>
<line x1="364.00" y1="222.27" x2="370.40" y2="222.27" stroke="#379437" stroke-width="1.3"/>
<line x1="296.20" y1="151.50" x2="296.20" y2="238.60" stroke="#1a1a1a" stroke-width="1.1"/>
<line x1="293.40" y1="238.00" x2="379.80" y2="238.00" stroke="#1a1a1a" stroke-width="1.25"/>
<line x1="293.40" y1="154.50" x2="296.20" y2="154.50" stroke="#1a1a1a" stroke-width="0.9"/>
<text x="290.60" y="156.40" font-size="6.3" text-anchor="end" fill="#4a4a4a" stroke="#4a4a4a" stroke-width="0.05">80</text>
<line x1="293.40" y1="171.20" x2="296.20" y2="171.20" stroke="#1a1a1a" stroke-width="0.9"/>
<text x="290.60" y="173.10" font-size="6.3" text-anchor="end" fill="#4a4a4a" stroke="#4a4a4a" stroke-width="0.05">60</text>
<line x1="293.40" y1="187.90" x2="296.20" y2="187.90" stroke="#1a1a1a" stroke-width="0.9"/>
<text x="290.60" y="189.80" font-size="6.3" text-anchor="end" fill="#4a4a4a" stroke="#4a4a4a" stroke-width="0.05">40</text>
<line x1="293.40" y1="204.60" x2="296.20" y2="204.60" stroke="#1a1a1a" stroke-width="0.9"/>
<text x="290.60" y="206.50" font-size="6.3" text-anchor="end" fill="#4a4a4a" stroke="#4a4a4a" stroke-width="0.05">20</text>
<line x1="293.40" y1="221.30" x2="296.20" y2="221.30" stroke="#1a1a1a" stroke-width="0.9"/>
<text x="290.60" y="223.20" font-size="6.3" text-anchor="end" fill="#4a4a4a" stroke="#4a4a4a" stroke-width="0.05">0</text>
<line x1="293.40" y1="238.00" x2="296.20" y2="238.00" stroke="#1a1a1a" stroke-width="0.9"/>
<text x="290.60" y="240.40" font-size="6.3" text-anchor="end" fill="#4a4a4a" stroke="#4a4a4a" stroke-width="0.05">−20</text>
<line x1="294.60" y1="234.66" x2="296.20" y2="234.66" stroke="#1a1a1a" stroke-width="0.8"/>
<line x1="294.60" y1="231.32" x2="296.20" y2="231.32" stroke="#1a1a1a" stroke-width="0.8"/>
<line x1="294.60" y1="227.98" x2="296.20" y2="227.98" stroke="#1a1a1a" stroke-width="0.8"/>
<line x1="294.60" y1="224.64" x2="296.20" y2="224.64" stroke="#1a1a1a" stroke-width="0.8"/>
<line x1="294.60" y1="217.96" x2="296.20" y2="217.96" stroke="#1a1a1a" stroke-width="0.8"/>
<line x1="294.60" y1="214.62" x2="296.20" y2="214.62" stroke="#1a1a1a" stroke-width="0.8"/>
<line x1="294.60" y1="211.28" x2="296.20" y2="211.28" stroke="#1a1a1a" stroke-width="0.8"/>
<line x1="294.60" y1="207.94" x2="296.20" y2="207.94" stroke="#1a1a1a" stroke-width="0.8"/>
<line x1="294.60" y1="201.26" x2="296.20" y2="201.26" stroke="#1a1a1a" stroke-width="0.8"/>
<line x1="294.60" y1="197.92" x2="296.20" y2="197.92" stroke="#1a1a1a" stroke-width="0.8"/>
<line x1="294.60" y1="194.58" x2="296.20" y2="194.58" stroke="#1a1a1a" stroke-width="0.8"/>
<line x1="294.60" y1="191.24" x2="296.20" y2="191.24" stroke="#1a1a1a" stroke-width="0.8"/>
<line x1="294.60" y1="184.56" x2="296.20" y2="184.56" stroke="#1a1a1a" stroke-width="0.8"/>
<line x1="294.60" y1="181.22" x2="296.20" y2="181.22" stroke="#1a1a1a" stroke-width="0.8"/>
<line x1="294.60" y1="177.88" x2="296.20" y2="177.88" stroke="#1a1a1a" stroke-width="0.8"/>
<line x1="294.60" y1="174.54" x2="296.20" y2="174.54" stroke="#1a1a1a" stroke-width="0.8"/>
<line x1="294.60" y1="167.86" x2="296.20" y2="167.86" stroke="#1a1a1a" stroke-width="0.8"/>
<line x1="294.60" y1="164.52" x2="296.20" y2="164.52" stroke="#1a1a1a" stroke-width="0.8"/>
<line x1="294.60" y1="161.18" x2="296.20" y2="161.18" stroke="#1a1a1a" stroke-width="0.8"/>
<line x1="294.60" y1="157.84" x2="296.20" y2="157.84" stroke="#1a1a1a" stroke-width="0.8"/>
<line x1="309.50" y1="238.00" x2="309.50" y2="241.00" stroke="#1a1a1a" stroke-width="0.9"/>
<line x1="328.40" y1="238.00" x2="328.40" y2="241.00" stroke="#1a1a1a" stroke-width="0.9"/>
<line x1="347.90" y1="238.00" x2="347.90" y2="241.00" stroke="#1a1a1a" stroke-width="0.9"/>
<line x1="367.20" y1="238.00" x2="367.20" y2="241.00" stroke="#1a1a1a" stroke-width="0.9"/>
<text x="312.90" y="248.40" font-size="6.3" text-anchor="end" fill="#222" stroke="#222" stroke-width="0.15" textLength="7.14" lengthAdjust="spacingAndGlyphs" transform="rotate(-45 312.90 248.40)">RT</text>
<text x="331.80" y="248.40" font-size="6.3" text-anchor="end" fill="#222" stroke="#222" stroke-width="0.15" textLength="12.95" lengthAdjust="spacingAndGlyphs" transform="rotate(-45 331.80 248.40)">56°C</text>
<text x="351.30" y="248.40" font-size="6.3" text-anchor="end" fill="#222" stroke="#222" stroke-width="0.15" textLength="12.95" lengthAdjust="spacingAndGlyphs" transform="rotate(-45 351.30 248.40)">70°C</text>
<text x="370.60" y="248.40" font-size="6.3" text-anchor="end" fill="#222" stroke="#222" stroke-width="0.15" textLength="17.05" lengthAdjust="spacingAndGlyphs" transform="rotate(-45 370.60 248.40)">100°C</text>
<text x="337.70" y="146.70" font-size="8.3" text-anchor="middle" fill="#1a1a1a" stroke="#1a1a1a" stroke-width="0.25">IFIH1</text>
<text x="274.70" y="195.00" font-size="7.2" text-anchor="middle" fill="#111" stroke="#111" stroke-width="0.3" textLength="89.5" lengthAdjust="spacingAndGlyphs" transform="rotate(-90 274.70 195.00)">Fold regulation (of average 3 RPM)</text>
<path d="M309.20 169.20 L309.20 167.60 L367.80 167.60 L367.80 169.20" fill="none" stroke="#333" stroke-width="1"/>
<text x="338.20" y="164.70" font-size="6.6" text-anchor="middle" fill="#2a2a2a" stroke="#2a2a2a" stroke-width="0.1" textLength="25.6" lengthAdjust="spacingAndGlyphs"><tspan font-style="italic">P</tspan> = .0017</text>
<rect x="424.05" y="177.44" width="11.70" height="46.56" fill="#8f9abf" stroke="#8692ba" stroke-width="0.6"/>
<rect x="443.25" y="176.32" width="11.70" height="47.68" fill="#a584b0" stroke="#9b79a7" stroke-width="0.6"/>
<rect x="462.35" y="187.44" width="11.70" height="36.56" fill="#f59cc6" stroke="#ef90bf" stroke-width="0.6"/>
<rect x="481.55" y="224.00" width="11.70" height="1.81" fill="#acd696" stroke="#9fcf8a" stroke-width="0.6"/>
<line x1="416.60" y1="224.00" x2="500.30" y2="224.00" stroke="#5e5e5e" stroke-width="1.3"/>
<line x1="429.90" y1="169.79" x2="429.90" y2="185.08" stroke="#22467e" stroke-width="1.0"/>
<line x1="427.00" y1="169.79" x2="432.80" y2="169.79" stroke="#22467e" stroke-width="1.1"/>
<line x1="427.00" y1="185.08" x2="432.80" y2="185.08" stroke="#22467e" stroke-width="1.1"/>
<line x1="449.10" y1="171.18" x2="449.10" y2="180.22" stroke="#4f2f63" stroke-width="1.0"/>
<line x1="446.20" y1="171.18" x2="452.00" y2="171.18" stroke="#4f2f63" stroke-width="1.1"/>
<line x1="446.20" y1="180.22" x2="452.00" y2="180.22" stroke="#4f2f63" stroke-width="1.1"/>
<line x1="468.20" y1="178.82" x2="468.20" y2="195.09" stroke="#d4266c" stroke-width="1.0"/>
<line x1="465.30" y1="178.82" x2="471.10" y2="178.82" stroke="#d4266c" stroke-width="1.1"/>
<line x1="465.30" y1="195.09" x2="471.10" y2="195.09" stroke="#d4266c" stroke-width="1.1"/>
<line x1="487.40" y1="225.39" x2="487.40" y2="226.22" stroke="#379437" stroke-width="1.0"/>
<line x1="484.50" y1="225.39" x2="490.30" y2="225.39" stroke="#379437" stroke-width="1.1"/>
<line x1="484.50" y1="226.22" x2="490.30" y2="226.22" stroke="#379437" stroke-width="1.1"/>
<line x1="416.60" y1="151.50" x2="416.60" y2="238.50" stroke="#1a1a1a" stroke-width="1.1"/>
<line x1="413.80" y1="237.90" x2="500.30" y2="237.90" stroke="#1a1a1a" stroke-width="1.25"/>
<line x1="413.80" y1="154.50" x2="416.60" y2="154.50" stroke="#1a1a1a" stroke-width="0.9"/>
<text x="411.00" y="156.40" font-size="6.3" text-anchor="end" fill="#4a4a4a" stroke="#4a4a4a" stroke-width="0.05">50</text>
<line x1="413.80" y1="168.40" x2="416.60" y2="168.40" stroke="#1a1a1a" stroke-width="0.9"/>
<text x="411.00" y="170.30" font-size="6.3" text-anchor="end" fill="#4a4a4a" stroke="#4a4a4a" stroke-width="0.05">40</text>
<line x1="413.80" y1="182.30" x2="416.60" y2="182.30" stroke="#1a1a1a" stroke-width="0.9"/>
<text x="411.00" y="184.20" font-size="6.3" text-anchor="end" fill="#4a4a4a" stroke="#4a4a4a" stroke-width="0.05">30</text>
<line x1="413.80" y1="196.20" x2="416.60" y2="196.20" stroke="#1a1a1a" stroke-width="0.9"/>
<text x="411.00" y="198.10" font-size="6.3" text-anchor="end" fill="#4a4a4a" stroke="#4a4a4a" stroke-width="0.05">20</text>
<line x1="413.80" y1="210.10" x2="416.60" y2="210.10" stroke="#1a1a1a" stroke-width="0.9"/>
<text x="411.00" y="212.00" font-size="6.3" text-anchor="end" fill="#4a4a4a" stroke="#4a4a4a" stroke-width="0.05">10</text>
<line x1="413.80" y1="224.00" x2="416.60" y2="224.00" stroke="#1a1a1a" stroke-width="0.9"/>
<text x="411.00" y="225.90" font-size="6.3" text-anchor="end" fill="#4a4a4a" stroke="#4a4a4a" stroke-width="0.05">0</text>
<line x1="413.80" y1="237.90" x2="416.60" y2="237.90" stroke="#1a1a1a" stroke-width="0.9"/>
<text x="411.00" y="240.30" font-size="6.3" text-anchor="end" fill="#4a4a4a" stroke="#4a4a4a" stroke-width="0.05">−10</text>
<line x1="415.00" y1="235.12" x2="416.60" y2="235.12" stroke="#1a1a1a" stroke-width="0.8"/>
<line x1="415.00" y1="232.34" x2="416.60" y2="232.34" stroke="#1a1a1a" stroke-width="0.8"/>
<line x1="415.00" y1="229.56" x2="416.60" y2="229.56" stroke="#1a1a1a" stroke-width="0.8"/>
<line x1="415.00" y1="226.78" x2="416.60" y2="226.78" stroke="#1a1a1a" stroke-width="0.8"/>
<line x1="415.00" y1="221.22" x2="416.60" y2="221.22" stroke="#1a1a1a" stroke-width="0.8"/>
<line x1="415.00" y1="218.44" x2="416.60" y2="218.44" stroke="#1a1a1a" stroke-width="0.8"/>
<line x1="415.00" y1="215.66" x2="416.60" y2="215.66" stroke="#1a1a1a" stroke-width="0.8"/>
<line x1="415.00" y1="212.88" x2="416.60" y2="212.88" stroke="#1a1a1a" stroke-width="0.8"/>
<line x1="415.00" y1="207.32" x2="416.60" y2="207.32" stroke="#1a1a1a" stroke-width="0.8"/>
<line x1="415.00" y1="204.54" x2="416.60" y2="204.54" stroke="#1a1a1a" stroke-width="0.8"/>
<line x1="415.00" y1="201.76" x2="416.60" y2="201.76" stroke="#1a1a1a" stroke-width="0.8"/>
<line x1="415.00" y1="198.98" x2="416.60" y2="198.98" stroke="#1a1a1a" stroke-width="0.8"/>
<line x1="415.00" y1="193.42" x2="416.60" y2="193.42" stroke="#1a1a1a" stroke-width="0.8"/>
<line x1="415.00" y1="190.64" x2="416.60" y2="190.64" stroke="#1a1a1a" stroke-width="0.8"/>
<line x1="415.00" y1="187.86" x2="416.60" y2="187.86" stroke="#1a1a1a" stroke-width="0.8"/>
<line x1="415.00" y1="185.08" x2="416.60" y2="185.08" stroke="#1a1a1a" stroke-width="0.8"/>
<line x1="415.00" y1="179.52" x2="416.60" y2="179.52" stroke="#1a1a1a" stroke-width="0.8"/>
<line x1="415.00" y1="176.74" x2="416.60" y2="176.74" stroke="#1a1a1a" stroke-width="0.8"/>
<line x1="415.00" y1="173.96" x2="416.60" y2="173.96" stroke="#1a1a1a" stroke-width="0.8"/>
<line x1="415.00" y1="171.18" x2="416.60" y2="171.18" stroke="#1a1a1a" stroke-width="0.8"/>
<line x1="415.00" y1="165.62" x2="416.60" y2="165.62" stroke="#1a1a1a" stroke-width="0.8"/>
<line x1="415.00" y1="162.84" x2="416.60" y2="162.84" stroke="#1a1a1a" stroke-width="0.8"/>
<line x1="415.00" y1="160.06" x2="416.60" y2="160.06" stroke="#1a1a1a" stroke-width="0.8"/>
<line x1="415.00" y1="157.28" x2="416.60" y2="157.28" stroke="#1a1a1a" stroke-width="0.8"/>
<line x1="429.90" y1="237.90" x2="429.90" y2="240.90" stroke="#1a1a1a" stroke-width="0.9"/>
<line x1="449.10" y1="237.90" x2="449.10" y2="240.90" stroke="#1a1a1a" stroke-width="0.9"/>
<line x1="468.20" y1="237.90" x2="468.20" y2="240.90" stroke="#1a1a1a" stroke-width="0.9"/>
<line x1="487.40" y1="237.90" x2="487.40" y2="240.90" stroke="#1a1a1a" stroke-width="0.9"/>
<text x="433.30" y="248.30" font-size="6.3" text-anchor="end" fill="#222" stroke="#222" stroke-width="0.15" textLength="7.14" lengthAdjust="spacingAndGlyphs" transform="rotate(-45 433.30 248.30)">RT</text>
<text x="452.50" y="248.30" font-size="6.3" text-anchor="end" fill="#222" stroke="#222" stroke-width="0.15" textLength="12.95" lengthAdjust="spacingAndGlyphs" transform="rotate(-45 452.50 248.30)">56°C</text>
<text x="471.60" y="248.30" font-size="6.3" text-anchor="end" fill="#222" stroke="#222" stroke-width="0.15" textLength="12.95" lengthAdjust="spacingAndGlyphs" transform="rotate(-45 471.60 248.30)">70°C</text>
<text x="490.80" y="248.30" font-size="6.3" text-anchor="end" fill="#222" stroke="#222" stroke-width="0.15" textLength="17.05" lengthAdjust="spacingAndGlyphs" transform="rotate(-45 490.80 248.30)">100°C</text>
<text x="458.50" y="146.70" font-size="8.3" text-anchor="middle" fill="#1a1a1a" stroke="#1a1a1a" stroke-width="0.25">DDX58</text>
<text x="395.00" y="195.00" font-size="7.2" text-anchor="middle" fill="#111" stroke="#111" stroke-width="0.3" textLength="89.5" lengthAdjust="spacingAndGlyphs" transform="rotate(-90 395.00 195.00)">Fold regulation (of average 3 RPM)</text>
<path d="M429.50 167.60 L429.50 165.90 L487.60 165.90 L487.60 167.60" fill="none" stroke="#333" stroke-width="1"/>
<text x="458.50" y="163.00" font-size="6.6" text-anchor="middle" fill="#2a2a2a" stroke="#2a2a2a" stroke-width="0.1" textLength="26.2" lengthAdjust="spacingAndGlyphs"><tspan font-style="italic">P</tspan> = .0003</text>
<text x="256.80" y="269.60" font-size="7" text-anchor="middle" fill="#1a1a1a" stroke="#1a1a1a" stroke-width="0.3" textLength="30.2" lengthAdjust="spacingAndGlyphs">Temperature</text>
<rect x="48.35" y="344.06" width="11.70" height="57.44" fill="#8f9abf" stroke="#8692ba" stroke-width="0.6"/>
<rect x="67.95" y="343.21" width="11.70" height="58.29" fill="#a584b0" stroke="#9b79a7" stroke-width="0.6"/>
<rect x="87.05" y="328.14" width="11.70" height="73.36" fill="#f59cc6" stroke="#ef90bf" stroke-width="0.6"/>
<rect x="106.35" y="368.80" width="11.70" height="32.70" fill="#acd696" stroke="#9fcf8a" stroke-width="0.6"/>
<line x1="54.20" y1="334.97" x2="54.20" y2="352.59" stroke="#22467e" stroke-width="1.0"/>
<line x1="51.30" y1="334.97" x2="57.10" y2="334.97" stroke="#22467e" stroke-width="1.1"/>
<line x1="51.30" y1="352.59" x2="57.10" y2="352.59" stroke="#22467e" stroke-width="1.1"/>
<line x1="73.80" y1="340.94" x2="73.80" y2="344.35" stroke="#4f2f63" stroke-width="1.0"/>
<line x1="70.90" y1="340.94" x2="76.70" y2="340.94" stroke="#4f2f63" stroke-width="1.1"/>
<line x1="70.90" y1="344.35" x2="76.70" y2="344.35" stroke="#4f2f63" stroke-width="1.1"/>
<line x1="92.90" y1="321.32" x2="92.90" y2="334.40" stroke="#d4266c" stroke-width="1.0"/>
<line x1="90.00" y1="321.32" x2="95.80" y2="321.32" stroke="#d4266c" stroke-width="1.1"/>
<line x1="90.00" y1="334.40" x2="95.80" y2="334.40" stroke="#d4266c" stroke-width="1.1"/>
<line x1="112.20" y1="365.11" x2="112.20" y2="371.36" stroke="#379437" stroke-width="1.0"/>
<line x1="109.30" y1="365.11" x2="115.10" y2="365.11" stroke="#379437" stroke-width="1.1"/>
<line x1="109.30" y1="371.36" x2="115.10" y2="371.36" stroke="#379437" stroke-width="1.1"/>
<line x1="41.30" y1="313.20" x2="41.30" y2="402.10" stroke="#1a1a1a" stroke-width="1.1"/>
<line x1="38.50" y1="401.50" x2="124.60" y2="401.50" stroke="#1a1a1a" stroke-width="1.25"/>
<line x1="38.50" y1="316.20" x2="41.30" y2="316.20" stroke="#1a1a1a" stroke-width="0.9"/>
<text x="35.70" y="318.10" font-size="6.3" text-anchor="end" fill="#4a4a4a" stroke="#4a4a4a" stroke-width="0.05">15000</text>
<line x1="38.50" y1="344.63" x2="41.30" y2="344.63" stroke="#1a1a1a" stroke-width="0.9"/>
<text x="35.70" y="346.53" font-size="6.3" text-anchor="end" fill="#4a4a4a" stroke="#4a4a4a" stroke-width="0.05">10000</text>
<line x1="38.50" y1="373.07" x2="41.30" y2="373.07" stroke="#1a1a1a" stroke-width="0.9"/>
<text x="35.70" y="374.97" font-size="6.3" text-anchor="end" fill="#4a4a4a" stroke="#4a4a4a" stroke-width="0.05">5000</text>
<line x1="38.50" y1="401.50" x2="41.30" y2="401.50" stroke="#1a1a1a" stroke-width="0.9"/>
<text x="35.70" y="403.40" font-size="6.3" text-anchor="end" fill="#4a4a4a" stroke="#4a4a4a" stroke-width="0.05">0</text>
<line x1="39.70" y1="395.81" x2="41.30" y2="395.81" stroke="#1a1a1a" stroke-width="0.8"/>
<line x1="39.70" y1="390.13" x2="41.30" y2="390.13" stroke="#1a1a1a" stroke-width="0.8"/>
<line x1="39.70" y1="384.44" x2="41.30" y2="384.44" stroke="#1a1a1a" stroke-width="0.8"/>
<line x1="39.70" y1="378.75" x2="41.30" y2="378.75" stroke="#1a1a1a" stroke-width="0.8"/>
<line x1="39.70" y1="367.38" x2="41.30" y2="367.38" stroke="#1a1a1a" stroke-width="0.8"/>
<line x1="39.70" y1="361.69" x2="41.30" y2="361.69" stroke="#1a1a1a" stroke-width="0.8"/>
<line x1="39.70" y1="356.01" x2="41.30" y2="356.01" stroke="#1a1a1a" stroke-width="0.8"/>
<line x1="39.70" y1="350.32" x2="41.30" y2="350.32" stroke="#1a1a1a" stroke-width="0.8"/>
<line x1="39.70" y1="338.95" x2="41.30" y2="338.95" stroke="#1a1a1a" stroke-width="0.8"/>
<line x1="39.70" y1="333.26" x2="41.30" y2="333.26" stroke="#1a1a1a" stroke-width="0.8"/>
<line x1="39.70" y1="327.57" x2="41.30" y2="327.57" stroke="#1a1a1a" stroke-width="0.8"/>
<line x1="39.70" y1="321.89" x2="41.30" y2="321.89" stroke="#1a1a1a" stroke-width="0.8"/>
<line x1="54.20" y1="401.50" x2="54.20" y2="404.50" stroke="#1a1a1a" stroke-width="0.9"/>
<line x1="73.80" y1="401.50" x2="73.80" y2="404.50" stroke="#1a1a1a" stroke-width="0.9"/>
<line x1="92.90" y1="401.50" x2="92.90" y2="404.50" stroke="#1a1a1a" stroke-width="0.9"/>
<line x1="112.20" y1="401.50" x2="112.20" y2="404.50" stroke="#1a1a1a" stroke-width="0.9"/>
<text x="57.60" y="411.90" font-size="6.3" text-anchor="end" fill="#222" stroke="#222" stroke-width="0.15" textLength="7.14" lengthAdjust="spacingAndGlyphs" transform="rotate(-45 57.60 411.90)">RT</text>
<text x="77.20" y="411.90" font-size="6.3" text-anchor="end" fill="#222" stroke="#222" stroke-width="0.15" textLength="12.95" lengthAdjust="spacingAndGlyphs" transform="rotate(-45 77.20 411.90)">56°C</text>
<text x="96.30" y="411.90" font-size="6.3" text-anchor="end" fill="#222" stroke="#222" stroke-width="0.15" textLength="12.95" lengthAdjust="spacingAndGlyphs" transform="rotate(-45 96.30 411.90)">70°C</text>
<text x="115.60" y="411.90" font-size="6.3" text-anchor="end" fill="#222" stroke="#222" stroke-width="0.15" textLength="17.05" lengthAdjust="spacingAndGlyphs" transform="rotate(-45 115.60 411.90)">100°C</text>
<text x="83.40" y="306.10" font-size="8.3" text-anchor="middle" fill="#1a1a1a" stroke="#1a1a1a" stroke-width="0.25">IL6</text>
<text x="13.40" y="357.40" font-size="7.2" text-anchor="middle" fill="#111" stroke="#111" stroke-width="0.3" textLength="14.6" lengthAdjust="spacingAndGlyphs" transform="rotate(-90 13.40 357.40)">pg/ml</text>
<path d="M54.20 334.70 L54.20 319.30 L112.20 319.30 L112.20 364.50" fill="none" stroke="#333" stroke-width="1"/>
<text x="83.50" y="316.40" font-size="6.6" text-anchor="middle" fill="#2a2a2a" stroke="#2a2a2a" stroke-width="0.1" textLength="26.4" lengthAdjust="spacingAndGlyphs"><tspan font-style="italic">P</tspan> = .0112</text>
<rect x="176.05" y="346.33" width="11.70" height="54.97" fill="#8f9abf" stroke="#8692ba" stroke-width="0.6"/>
<rect x="195.15" y="346.90" width="11.70" height="54.40" fill="#a584b0" stroke="#9b79a7" stroke-width="0.6"/>
<rect x="214.05" y="363.62" width="11.70" height="37.68" fill="#f59cc6" stroke="#ef90bf" stroke-width="0.6"/>
<rect x="233.55" y="401.30" width="11.70" height="0.00" fill="#acd696" stroke="#9fcf8a" stroke-width="0.6"/>
<line x1="181.90" y1="335.00" x2="181.90" y2="356.53" stroke="#22467e" stroke-width="1.0"/>
<line x1="179.00" y1="335.00" x2="184.80" y2="335.00" stroke="#22467e" stroke-width="1.1"/>
<line x1="179.00" y1="356.53" x2="184.80" y2="356.53" stroke="#22467e" stroke-width="1.1"/>
<line x1="201.00" y1="338.40" x2="201.00" y2="353.13" stroke="#4f2f63" stroke-width="1.0"/>
<line x1="198.10" y1="338.40" x2="203.90" y2="338.40" stroke="#4f2f63" stroke-width="1.1"/>
<line x1="198.10" y1="353.13" x2="203.90" y2="353.13" stroke="#4f2f63" stroke-width="1.1"/>
<line x1="219.90" y1="358.23" x2="219.90" y2="367.30" stroke="#d4266c" stroke-width="1.0"/>
<line x1="217.00" y1="358.23" x2="222.80" y2="358.23" stroke="#d4266c" stroke-width="1.1"/>
<line x1="217.00" y1="367.30" x2="222.80" y2="367.30" stroke="#d4266c" stroke-width="1.1"/>
<line x1="169.40" y1="313.30" x2="169.40" y2="401.90" stroke="#1a1a1a" stroke-width="1.1"/>
<line x1="166.60" y1="401.30" x2="252.40" y2="401.30" stroke="#1a1a1a" stroke-width="1.25"/>
<line x1="166.60" y1="316.30" x2="169.40" y2="316.30" stroke="#1a1a1a" stroke-width="0.9"/>
<text x="163.80" y="318.20" font-size="6.3" text-anchor="end" fill="#4a4a4a" stroke="#4a4a4a" stroke-width="0.05">15000</text>
<line x1="166.60" y1="344.63" x2="169.40" y2="344.63" stroke="#1a1a1a" stroke-width="0.9"/>
<text x="163.80" y="346.53" font-size="6.3" text-anchor="end" fill="#4a4a4a" stroke="#4a4a4a" stroke-width="0.05">10000</text>
<line x1="166.60" y1="372.97" x2="169.40" y2="372.97" stroke="#1a1a1a" stroke-width="0.9"/>
<text x="163.80" y="374.87" font-size="6.3" text-anchor="end" fill="#4a4a4a" stroke="#4a4a4a" stroke-width="0.05">5000</text>
<line x1="166.60" y1="401.30" x2="169.40" y2="401.30" stroke="#1a1a1a" stroke-width="0.9"/>
<text x="163.80" y="403.20" font-size="6.3" text-anchor="end" fill="#4a4a4a" stroke="#4a4a4a" stroke-width="0.05">0</text>
<line x1="167.80" y1="395.63" x2="169.40" y2="395.63" stroke="#1a1a1a" stroke-width="0.8"/>
<line x1="167.80" y1="389.97" x2="169.40" y2="389.97" stroke="#1a1a1a" stroke-width="0.8"/>
<line x1="167.80" y1="384.30" x2="169.40" y2="384.30" stroke="#1a1a1a" stroke-width="0.8"/>
<line x1="167.80" y1="378.63" x2="169.40" y2="378.63" stroke="#1a1a1a" stroke-width="0.8"/>
<line x1="167.80" y1="367.30" x2="169.40" y2="367.30" stroke="#1a1a1a" stroke-width="0.8"/>
<line x1="167.80" y1="361.63" x2="169.40" y2="361.63" stroke="#1a1a1a" stroke-width="0.8"/>
<line x1="167.80" y1="355.97" x2="169.40" y2="355.97" stroke="#1a1a1a" stroke-width="0.8"/>
<line x1="167.80" y1="350.30" x2="169.40" y2="350.30" stroke="#1a1a1a" stroke-width="0.8"/>
<line x1="167.80" y1="338.97" x2="169.40" y2="338.97" stroke="#1a1a1a" stroke-width="0.8"/>
<line x1="167.80" y1="333.30" x2="169.40" y2="333.30" stroke="#1a1a1a" stroke-width="0.8"/>
<line x1="167.80" y1="327.63" x2="169.40" y2="327.63" stroke="#1a1a1a" stroke-width="0.8"/>
<line x1="167.80" y1="321.97" x2="169.40" y2="321.97" stroke="#1a1a1a" stroke-width="0.8"/>
<line x1="181.90" y1="401.30" x2="181.90" y2="404.30" stroke="#1a1a1a" stroke-width="0.9"/>
<line x1="201.00" y1="401.30" x2="201.00" y2="404.30" stroke="#1a1a1a" stroke-width="0.9"/>
<line x1="219.90" y1="401.30" x2="219.90" y2="404.30" stroke="#1a1a1a" stroke-width="0.9"/>
<line x1="239.40" y1="401.30" x2="239.40" y2="404.30" stroke="#1a1a1a" stroke-width="0.9"/>
<line x1="236.40" y1="401.30" x2="242.40" y2="401.30" stroke="#379437" stroke-width="1.2" opacity="0.55"/>
<text x="185.30" y="411.70" font-size="6.3" text-anchor="end" fill="#222" stroke="#222" stroke-width="0.15" textLength="7.14" lengthAdjust="spacingAndGlyphs" transform="rotate(-45 185.30 411.70)">RT</text>
<text x="204.40" y="411.70" font-size="6.3" text-anchor="end" fill="#222" stroke="#222" stroke-width="0.15" textLength="12.95" lengthAdjust="spacingAndGlyphs" transform="rotate(-45 204.40 411.70)">56°C</text>
<text x="223.30" y="411.70" font-size="6.3" text-anchor="end" fill="#222" stroke="#222" stroke-width="0.15" textLength="12.95" lengthAdjust="spacingAndGlyphs" transform="rotate(-45 223.30 411.70)">70°C</text>
<text x="242.80" y="411.70" font-size="6.3" text-anchor="end" fill="#222" stroke="#222" stroke-width="0.15" textLength="17.05" lengthAdjust="spacingAndGlyphs" transform="rotate(-45 242.80 411.70)">100°C</text>
<text x="210.70" y="308.70" font-size="8.3" text-anchor="middle" fill="#1a1a1a" stroke="#1a1a1a" stroke-width="0.25">IL8</text>
<text x="140.80" y="357.00" font-size="7.2" text-anchor="middle" fill="#111" stroke="#111" stroke-width="0.3" textLength="14.6" lengthAdjust="spacingAndGlyphs" transform="rotate(-90 140.80 357.00)">pg/ml</text>
<path d="M181.90 334.70 L181.90 332.30 L239.40 332.30 L239.40 401.30" fill="none" stroke="#333" stroke-width="1"/>
<text x="210.70" y="329.40" font-size="6.6" text-anchor="middle" fill="#2a2a2a" stroke="#2a2a2a" stroke-width="0.1" textLength="26.0" lengthAdjust="spacingAndGlyphs"><tspan font-style="italic">P</tspan> = .0010</text>
<rect x="303.15" y="391.10" width="11.70" height="10.20" fill="#8f9abf" stroke="#8692ba" stroke-width="0.6"/>
<rect x="322.65" y="389.40" width="11.70" height="11.90" fill="#a584b0" stroke="#9b79a7" stroke-width="0.6"/>
<rect x="341.75" y="339.25" width="11.70" height="62.05" fill="#f59cc6" stroke="#ef90bf" stroke-width="0.6"/>
<rect x="360.75" y="401.30" width="11.70" height="0.00" fill="#acd696" stroke="#9fcf8a" stroke-width="0.6"/>
<line x1="309.00" y1="388.12" x2="309.00" y2="393.65" stroke="#22467e" stroke-width="1.0"/>
<line x1="306.10" y1="388.12" x2="311.90" y2="388.12" stroke="#22467e" stroke-width="1.1"/>
<line x1="306.10" y1="393.65" x2="311.90" y2="393.65" stroke="#22467e" stroke-width="1.1"/>
<line x1="328.50" y1="387.28" x2="328.50" y2="391.10" stroke="#4f2f63" stroke-width="1.0"/>
<line x1="325.60" y1="387.28" x2="331.40" y2="387.28" stroke="#4f2f63" stroke-width="1.1"/>
<line x1="325.60" y1="391.10" x2="331.40" y2="391.10" stroke="#4f2f63" stroke-width="1.1"/>
<line x1="347.60" y1="333.30" x2="347.60" y2="344.35" stroke="#d4266c" stroke-width="1.0"/>
<line x1="344.70" y1="333.30" x2="350.50" y2="333.30" stroke="#d4266c" stroke-width="1.1"/>
<line x1="344.70" y1="344.35" x2="350.50" y2="344.35" stroke="#d4266c" stroke-width="1.1"/>
<line x1="296.10" y1="313.30" x2="296.10" y2="401.90" stroke="#1a1a1a" stroke-width="1.1"/>
<line x1="293.30" y1="401.30" x2="379.80" y2="401.30" stroke="#1a1a1a" stroke-width="1.25"/>
<line x1="293.30" y1="316.30" x2="296.10" y2="316.30" stroke="#1a1a1a" stroke-width="0.9"/>
<text x="290.50" y="318.20" font-size="6.3" text-anchor="end" fill="#4a4a4a" stroke="#4a4a4a" stroke-width="0.05">10000</text>
<line x1="293.30" y1="333.30" x2="296.10" y2="333.30" stroke="#1a1a1a" stroke-width="0.9"/>
<text x="290.50" y="335.20" font-size="6.3" text-anchor="end" fill="#4a4a4a" stroke="#4a4a4a" stroke-width="0.05">8000</text>
<line x1="293.30" y1="350.30" x2="296.10" y2="350.30" stroke="#1a1a1a" stroke-width="0.9"/>
<text x="290.50" y="352.20" font-size="6.3" text-anchor="end" fill="#4a4a4a" stroke="#4a4a4a" stroke-width="0.05">6000</text>
<line x1="293.30" y1="367.30" x2="296.10" y2="367.30" stroke="#1a1a1a" stroke-width="0.9"/>
<text x="290.50" y="369.20" font-size="6.3" text-anchor="end" fill="#4a4a4a" stroke="#4a4a4a" stroke-width="0.05">4000</text>
<line x1="293.30" y1="384.30" x2="296.10" y2="384.30" stroke="#1a1a1a" stroke-width="0.9"/>
<text x="290.50" y="386.20" font-size="6.3" text-anchor="end" fill="#4a4a4a" stroke="#4a4a4a" stroke-width="0.05">2000</text>
<line x1="293.30" y1="401.30" x2="296.10" y2="401.30" stroke="#1a1a1a" stroke-width="0.9"/>
<text x="290.50" y="403.20" font-size="6.3" text-anchor="end" fill="#4a4a4a" stroke="#4a4a4a" stroke-width="0.05">0</text>
<line x1="294.50" y1="392.80" x2="296.10" y2="392.80" stroke="#1a1a1a" stroke-width="0.8"/>
<line x1="294.50" y1="375.80" x2="296.10" y2="375.80" stroke="#1a1a1a" stroke-width="0.8"/>
<line x1="294.50" y1="358.80" x2="296.10" y2="358.80" stroke="#1a1a1a" stroke-width="0.8"/>
<line x1="294.50" y1="341.80" x2="296.10" y2="341.80" stroke="#1a1a1a" stroke-width="0.8"/>
<line x1="294.50" y1="324.80" x2="296.10" y2="324.80" stroke="#1a1a1a" stroke-width="0.8"/>
<line x1="309.00" y1="401.30" x2="309.00" y2="404.30" stroke="#1a1a1a" stroke-width="0.9"/>
<line x1="328.50" y1="401.30" x2="328.50" y2="404.30" stroke="#1a1a1a" stroke-width="0.9"/>
<line x1="347.60" y1="401.30" x2="347.60" y2="404.30" stroke="#1a1a1a" stroke-width="0.9"/>
<line x1="366.60" y1="401.30" x2="366.60" y2="404.30" stroke="#1a1a1a" stroke-width="0.9"/>
<line x1="363.60" y1="401.30" x2="369.60" y2="401.30" stroke="#379437" stroke-width="1.2" opacity="0.55"/>
<text x="312.40" y="411.70" font-size="6.3" text-anchor="end" fill="#222" stroke="#222" stroke-width="0.15" textLength="7.14" lengthAdjust="spacingAndGlyphs" transform="rotate(-45 312.40 411.70)">RT</text>
<text x="331.90" y="411.70" font-size="6.3" text-anchor="end" fill="#222" stroke="#222" stroke-width="0.15" textLength="12.95" lengthAdjust="spacingAndGlyphs" transform="rotate(-45 331.90 411.70)">56°C</text>
<text x="351.00" y="411.70" font-size="6.3" text-anchor="end" fill="#222" stroke="#222" stroke-width="0.15" textLength="12.95" lengthAdjust="spacingAndGlyphs" transform="rotate(-45 351.00 411.70)">70°C</text>
<text x="370.00" y="411.70" font-size="6.3" text-anchor="end" fill="#222" stroke="#222" stroke-width="0.15" textLength="17.05" lengthAdjust="spacingAndGlyphs" transform="rotate(-45 370.00 411.70)">100°C</text>
<text x="338.20" y="308.70" font-size="8.3" text-anchor="middle" fill="#1a1a1a" stroke="#1a1a1a" stroke-width="0.25">CCL2</text>
<text x="268.10" y="357.30" font-size="7.2" text-anchor="middle" fill="#111" stroke="#111" stroke-width="0.3" textLength="14.6" lengthAdjust="spacingAndGlyphs" transform="rotate(-90 268.10 357.30)">pg/ml</text>
<path d="M309.00 388.20 L309.00 330.70 L366.60 330.70 L366.60 401.30" fill="none" stroke="#333" stroke-width="1"/>
<text x="338.50" y="327.80" font-size="6.6" text-anchor="middle" fill="#2a2a2a" stroke="#2a2a2a" stroke-width="0.1" textLength="26.6" lengthAdjust="spacingAndGlyphs"><tspan font-style="italic">P</tspan> = .0008</text>
<line x1="430.00" y1="313.10" x2="430.00" y2="402.10" stroke="#1a1a1a" stroke-width="1.1"/>
<line x1="427.20" y1="401.50" x2="513.40" y2="401.50" stroke="#1a1a1a" stroke-width="1.25"/>
<line x1="427.20" y1="316.10" x2="430.00" y2="316.10" stroke="#1a1a1a" stroke-width="0.9"/>
<text x="424.40" y="318.00" font-size="6.3" text-anchor="end" fill="#4a4a4a" stroke="#4a4a4a" stroke-width="0.05">15</text>
<line x1="427.20" y1="344.57" x2="430.00" y2="344.57" stroke="#1a1a1a" stroke-width="0.9"/>
<text x="424.40" y="346.47" font-size="6.3" text-anchor="end" fill="#4a4a4a" stroke="#4a4a4a" stroke-width="0.05">10</text>
<line x1="427.20" y1="373.03" x2="430.00" y2="373.03" stroke="#1a1a1a" stroke-width="0.9"/>
<text x="424.40" y="374.93" font-size="6.3" text-anchor="end" fill="#4a4a4a" stroke="#4a4a4a" stroke-width="0.05">5</text>
<line x1="427.20" y1="401.50" x2="430.00" y2="401.50" stroke="#1a1a1a" stroke-width="0.9"/>
<text x="424.40" y="403.40" font-size="6.3" text-anchor="end" fill="#4a4a4a" stroke="#4a4a4a" stroke-width="0.05">0</text>
<line x1="428.40" y1="395.81" x2="430.00" y2="395.81" stroke="#1a1a1a" stroke-width="0.8"/>
<line x1="428.40" y1="390.11" x2="430.00" y2="390.11" stroke="#1a1a1a" stroke-width="0.8"/>
<line x1="428.40" y1="384.42" x2="430.00" y2="384.42" stroke="#1a1a1a" stroke-width="0.8"/>
<line x1="428.40" y1="378.73" x2="430.00" y2="378.73" stroke="#1a1a1a" stroke-width="0.8"/>
<line x1="428.40" y1="367.34" x2="430.00" y2="367.34" stroke="#1a1a1a" stroke-width="0.8"/>
<line x1="428.40" y1="361.65" x2="430.00" y2="361.65" stroke="#1a1a1a" stroke-width="0.8"/>
<line x1="428.40" y1="355.95" x2="430.00" y2="355.95" stroke="#1a1a1a" stroke-width="0.8"/>
<line x1="428.40" y1="350.26" x2="430.00" y2="350.26" stroke="#1a1a1a" stroke-width="0.8"/>
<line x1="428.40" y1="338.87" x2="430.00" y2="338.87" stroke="#1a1a1a" stroke-width="0.8"/>
<line x1="428.40" y1="333.18" x2="430.00" y2="333.18" stroke="#1a1a1a" stroke-width="0.8"/>
<line x1="428.40" y1="327.49" x2="430.00" y2="327.49" stroke="#1a1a1a" stroke-width="0.8"/>
<line x1="428.40" y1="321.79" x2="430.00" y2="321.79" stroke="#1a1a1a" stroke-width="0.8"/>
<line x1="442.70" y1="401.50" x2="442.70" y2="404.50" stroke="#1a1a1a" stroke-width="0.9"/>
<line x1="461.90" y1="401.50" x2="461.90" y2="404.50" stroke="#1a1a1a" stroke-width="0.9"/>
<line x1="481.20" y1="401.50" x2="481.20" y2="404.50" stroke="#1a1a1a" stroke-width="0.9"/>
<line x1="500.40" y1="401.50" x2="500.40" y2="404.50" stroke="#1a1a1a" stroke-width="0.9"/>
<text x="446.10" y="411.90" font-size="6.3" text-anchor="end" fill="#222" stroke="#222" stroke-width="0.15" textLength="7.14" lengthAdjust="spacingAndGlyphs" transform="rotate(-45 446.10 411.90)">RT</text>
<text x="465.30" y="411.90" font-size="6.3" text-anchor="end" fill="#222" stroke="#222" stroke-width="0.15" textLength="12.95" lengthAdjust="spacingAndGlyphs" transform="rotate(-45 465.30 411.90)">56°C</text>
<text x="484.60" y="411.90" font-size="6.3" text-anchor="end" fill="#222" stroke="#222" stroke-width="0.15" textLength="12.95" lengthAdjust="spacingAndGlyphs" transform="rotate(-45 484.60 411.90)">70°C</text>
<text x="503.80" y="411.90" font-size="6.3" text-anchor="end" fill="#222" stroke="#222" stroke-width="0.15" textLength="17.05" lengthAdjust="spacingAndGlyphs" transform="rotate(-45 503.80 411.90)">100°C</text>
<text x="412.00" y="357.50" font-size="7.2" text-anchor="middle" fill="#111" stroke="#111" stroke-width="0.3" textLength="13.6" lengthAdjust="spacingAndGlyphs" transform="rotate(-90 412.00 357.50)">pg/ml</text>
<path d="M442.40 346.30 L442.40 339.20 L499.80 339.20 L499.80 401.50" fill="none" stroke="#333" stroke-width="1"/>
<text x="471.50" y="336.30" font-size="6.6" text-anchor="middle" fill="#2a2a2a" stroke="#2a2a2a" stroke-width="0.1" textLength="25.6" lengthAdjust="spacingAndGlyphs"><tspan font-style="italic">P</tspan> = .0108</text>
<text x="395.70" y="359.60" font-size="6.3" text-anchor="middle" fill="#222" stroke="#222" stroke-width="0.1" textLength="14" lengthAdjust="spacingAndGlyphs">IFNB</text>
<text x="471.80" y="433.50" font-size="7" text-anchor="middle" fill="#1a1a1a" stroke="#1a1a1a" stroke-width="0.3" textLength="30.2" lengthAdjust="spacingAndGlyphs">Temperature</text>
<line x1="436.50" y1="358.23" x2="448.90" y2="358.23" stroke="#22467e" stroke-width="1.1"/>
<line x1="442.70" y1="347.98" x2="442.70" y2="367.91" stroke="#22467e" stroke-width="1.1"/>
<line x1="439.70" y1="347.98" x2="445.70" y2="347.98" stroke="#22467e" stroke-width="1.1"/>
<line x1="439.70" y1="367.91" x2="445.70" y2="367.91" stroke="#22467e" stroke-width="1.1"/>
<circle cx="442.70" cy="346.27" r="1.45" fill="#1f3f78"/>
<circle cx="442.70" cy="350.26" r="1.45" fill="#1f3f78"/>
<circle cx="442.70" cy="377.02" r="1.45" fill="#1f3f78"/>
<line x1="455.70" y1="363.92" x2="468.10" y2="363.92" stroke="#4f2f63" stroke-width="1.1"/>
<line x1="461.90" y1="355.38" x2="461.90" y2="372.46" stroke="#4f2f63" stroke-width="1.1"/>
<line x1="458.90" y1="355.38" x2="464.90" y2="355.38" stroke="#4f2f63" stroke-width="1.1"/>
<line x1="458.90" y1="372.46" x2="464.90" y2="372.46" stroke="#4f2f63" stroke-width="1.1"/>
<circle cx="461.90" cy="349.12" r="1.45" fill="#3d1f4a"/>
<circle cx="461.90" cy="363.92" r="1.45" fill="#3d1f4a"/>
<circle cx="461.90" cy="379.30" r="1.45" fill="#3d1f4a"/>
<line x1="475.00" y1="383.28" x2="487.40" y2="383.28" stroke="#d4266c" stroke-width="1.1"/>
<line x1="481.20" y1="379.87" x2="481.20" y2="386.13" stroke="#d4266c" stroke-width="1.1"/>
<line x1="478.20" y1="379.87" x2="484.20" y2="379.87" stroke="#d4266c" stroke-width="1.1"/>
<line x1="478.20" y1="386.13" x2="484.20" y2="386.13" stroke="#d4266c" stroke-width="1.1"/>
<circle cx="481.20" cy="378.73" r="1.45" fill="#e0307a"/>
<circle cx="481.20" cy="384.42" r="1.45" fill="#e0307a"/>
<circle cx="481.20" cy="387.27" r="1.45" fill="#e0307a"/>
<line x1="493.40" y1="401.50" x2="507.40" y2="401.50" stroke="#3a9a3a" stroke-width="1.2"/>
<circle cx="495.40" cy="401.50" r="1.3" fill="#3a9a3a"/>
<circle cx="500.40" cy="401.50" r="1.3" fill="#3a9a3a"/>
<circle cx="505.40" cy="401.50" r="1.3" fill="#3a9a3a"/>
<text x="13.60" y="15.80" font-size="10.8" text-anchor="start" fill="#000" stroke="#000" stroke-width="0.35" font-weight="bold">A</text>
<text x="6.90" y="295.80" font-size="10.8" text-anchor="start" fill="#000" stroke="#000" stroke-width="0.35" font-weight="bold">B</text>
<text x="389.00" y="296.20" font-size="10.8" text-anchor="start" fill="#000" stroke="#000" stroke-width="0.35" font-weight="bold">C</text>
<rect x="0.5" y="0.5" width="519" height="442" fill="none" stroke="#2a2a2a" stroke-width="1.2"/>
</svg>
</body></html>
